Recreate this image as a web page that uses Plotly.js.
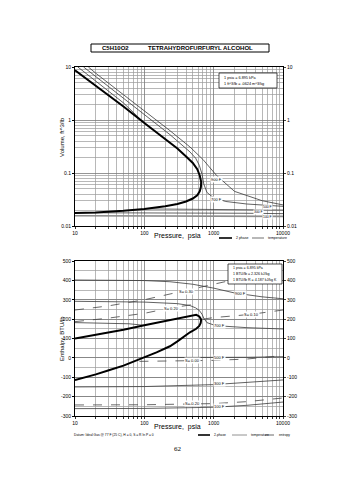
<!DOCTYPE html>
<html><head><meta charset="utf-8">
<script src="https://cdn.plot.ly/plotly-3.0.1.min.js"></script>
<style>html,body{margin:0;padding:0;background:#fff}#chart{width:355px;height:480px}</style>
</head><body><div id="chart"></div>
<script>
// ---------- Top chart: Volume (ft^3/lb) vs Pressure (psia) ----------
const satVapP = [10, 20, 30, 50, 100, 200, 300, 400, 500, 580, 630, 660];
const satVapV = [8.7, 4.45, 3.0, 1.8, 0.88, 0.44, 0.29, 0.205, 0.155, 0.118, 0.09, 0.068];
const satLiqP = [660, 655, 630, 580, 500, 400, 300, 200, 100, 50, 20, 10];
const satLiqV = [0.068, 0.055, 0.045, 0.038, 0.033, 0.029, 0.026, 0.0235, 0.021, 0.0193, 0.018, 0.0176];

const t900P = [15.6, 20, 50, 100, 234, 455, 700, 1100, 2000, 5000, 10000];
const t900V = [10, 7.6, 3.0, 1.5, 0.63, 0.31, 0.18, 0.09, 0.045, 0.03, 0.025];
const t700P = [13.3, 20, 50, 100, 234, 455, 550, 620, 680, 720, 800, 1000, 1500, 3000, 10000];
const t700V = [10, 6.6, 2.6, 1.28, 0.53, 0.25, 0.19, 0.14, 0.095, 0.062, 0.043, 0.034, 0.029, 0.026, 0.0235];
const t500vP = [11, 20, 50, 100];
const t500vV = [10, 5.4, 2.1, 0.88];
const t500lP = [100, 300, 1000, 3000, 10000];
const t500lV = [0.021, 0.0209, 0.0207, 0.0204, 0.0200];
const t300P = [10, 100, 1000, 3000, 10000];
const t300V = [0.0178, 0.0178, 0.0176, 0.0174, 0.0171];
const t100P = [10, 100, 1000, 3000, 10000];
const t100V = [0.0156, 0.0156, 0.0155, 0.0154, 0.0152];

// ---------- Bottom chart: Enthalpy (BTU/lb) vs Pressure (psia) ----------
const satVapHP = [10, 20, 30, 50, 100, 200, 300, 400, 500, 560, 620, 660];
const satVapH = [100, 118, 128, 145, 168, 190, 203, 213, 220, 222, 214, 198];
const satLiqHP = [660, 650, 620, 560, 455, 300, 234, 150, 100, 50, 30, 20, 10];
const satLiqH = [198, 180, 165, 150, 132, 85, 60, 28, 3, -40, -65, -85, -115];

const h900P = [10, 100, 234, 500, 1000, 2000, 5000, 10000];
const h900H = [402, 399, 393, 380, 360, 335, 315, 305];
const h700P = [10, 100, 300, 455, 550, 620, 680, 720, 800, 1000, 1500, 3000, 10000];
const h700H = [292, 288, 280, 270, 258, 245, 225, 205, 182, 170, 163, 156, 149];
const h500vP = [10, 30, 60, 100];
const h500vH = [182, 180, 176, 168];
const h500lP = [100, 300, 1000, 3000, 10000];
const h500lH = [2, 2, 2, 3, 6];
const h300P = [10, 100, 1000, 3000, 10000];
const h300H = [-150, -148, -138, -128, -114];
const h100P = [10, 100, 1000, 3000, 10000];
const h100H = [-262, -261, -255, -245, -228];

const sAP = [10, 30, 100, 234, 455, 1000, 3000, 10000];
const sAH = [247, 268, 300, 330, 350, 380, 420, 460];
const sBP = [10, 30, 100, 234, 455, 560];
const sBH = [187, 205, 230, 257, 273, 280];
const sCP = [700, 1000, 2000, 3500, 10000];
const sCH = [200, 208, 217, 225, 247];
const sDP = [85, 200, 500, 1000, 3000, 10000];
const sDH = [-18, -17, -15, -13, -6, 12];
const sEP = [10, 100, 1000, 3000, 10000];
const sEH = [-243, -242, -236, -226, -207];

// tick labels
const xTicks = [10, 100, 1000, 10000];
const xTickText = ['10', '100', '1000', '10000'];
const vTicks = [0.01, 0.1, 1, 10];
const vTickText = ['0.01', '0.1', '1', '10'];
const hTicks = [-300, -200, -100, 0, 100, 200, 300, 400, 500];
const hTickText = ['-300', '-200', '-100', '0', '100', '200', '300', '400', '500'];

// ---------- build ----------
const W = 355, Hh = 480;
const px = v => v / W;
const py = v => 1 - v / Hh;
const FONT = 'Liberation Sans, Arial, sans-serif';

const minorX = [];
[10, 100, 1000].forEach(d => { for (let m = 2; m <= 9; m++) minorX.push(d * m); });
const minorV = [];
[0.01, 0.1, 1].forEach(d => { for (let m = 2; m <= 9; m++) minorV.push(+(d * m).toPrecision(3)); });

const ISO = {color: '#3a3a3a', width: 0.8};
const SAT = {color: '#000', width: 2};
const ENT = {color: '#444', width: 0.8, dash: 'dash'};

function tr(x, y, xa, ya, line) {
  return {x: x, y: y, xaxis: xa, yaxis: ya, mode: 'lines', line: line, hoverinfo: 'skip', showlegend: false};
}

const data = [
  tr(t100P, t100V, 'x', 'y', {color: '#8c8c8c', width: 1.6}),
  tr(t300P, t300V, 'x', 'y', ISO),
  tr(t500lP, t500lV, 'x', 'y', ISO),
  tr(t500vP, t500vV, 'x', 'y', ISO),
  tr(t700P, t700V, 'x', 'y', ISO),
  tr(t900P, t900V, 'x', 'y', ISO),
  tr(satVapP.concat(satLiqP), satVapV.concat(satLiqV), 'x', 'y', SAT),
  tr([], [], 'x', 'y3', ISO),

  tr(h100P, h100H, 'x2', 'y2', ISO),
  tr(h300P, h300H, 'x2', 'y2', ISO),
  tr(h500lP, h500lH, 'x2', 'y2', ISO),
  tr(h500vP, h500vH, 'x2', 'y2', ISO),
  tr(h700P, h700H, 'x2', 'y2', ISO),
  tr(h900P, h900H, 'x2', 'y2', ISO),
  tr(sAP, sAH, 'x2', 'y2', ENT),
  tr(sBP, sBH, 'x2', 'y2', ENT),
  tr(sCP, sCH, 'x2', 'y2', ENT),
  tr(sDP, sDH, 'x2', 'y2', ENT),
  tr(sEP, sEH, 'x2', 'y2', ENT),
  tr(satVapHP.concat(satLiqHP), satVapH.concat(satLiqH), 'x2', 'y2', SAT),
  tr([], [], 'x2', 'y4', ISO)
];

const tickFont = {family: FONT, size: 5, color: '#000'};
function xAxis(anchor, dom) {
  return {type: 'log', range: [1, 4], domain: dom, anchor: anchor,
    tickmode: 'array', tickvals: xTicks, ticktext: xTickText, tickfont: tickFont,
    ticks: 'outside', ticklen: 2, tickcolor: '#000', tickwidth: 0.8,
    showline: true, mirror: true, linecolor: '#000', linewidth: 1,
    showgrid: true, gridcolor: '#7a7a7a', gridwidth: 0.8, zeroline: false,
    minor: {tickmode: 'array', tickvals: minorX, showgrid: true, gridcolor: '#9a9a9a', gridwidth: 0.7,
            ticks: 'outside', ticklen: 1.5, tickcolor: '#000'}};
}
const xDom = [px(75), px(283)];

const layout = {
  width: W, height: Hh, margin: {l: 0, r: 0, t: 0, b: 0},
  paper_bgcolor: '#fff', plot_bgcolor: '#fff', showlegend: false,
  font: {family: FONT, color: '#000'},
  xaxis: xAxis('y', xDom),
  xaxis2: xAxis('y2', xDom),
  yaxis: {type: 'log', range: [-2, 1], domain: [py(226), py(67)], anchor: 'x',
    tickmode: 'array', tickvals: vTicks, ticktext: vTickText, tickfont: tickFont,
    ticks: 'outside', ticklen: 2, tickcolor: '#000',
    showline: true, mirror: true, linecolor: '#000', linewidth: 1,
    showgrid: true, gridcolor: '#7a7a7a', gridwidth: 0.8, zeroline: false,
    minor: {tickmode: 'array', tickvals: minorV, showgrid: true, gridcolor: '#9a9a9a', gridwidth: 0.7}},
  yaxis3: {type: 'log', range: [-2, 1], overlaying: 'y', side: 'right', anchor: 'x',
    tickmode: 'array', tickvals: vTicks, ticktext: vTickText, tickfont: tickFont,
    ticks: 'outside', ticklen: 2, showgrid: false, zeroline: false, showline: false},
  yaxis2: {range: [-300, 500], domain: [py(416), py(261)], anchor: 'x2',
    tickmode: 'array', tickvals: hTicks, ticktext: hTickText, tickfont: tickFont,
    ticks: 'outside', ticklen: 2, tickcolor: '#000',
    showline: true, mirror: true, linecolor: '#000', linewidth: 1,
    showgrid: true, gridcolor: '#7a7a7a', gridwidth: 0.8, zeroline: false,
    minor: {dtick: 50, showgrid: true, gridcolor: '#9a9a9a', gridwidth: 0.7}},
  yaxis4: {range: [-300, 500], overlaying: 'y2', side: 'right', anchor: 'x2',
    tickmode: 'array', tickvals: hTicks, ticktext: hTickText, tickfont: tickFont,
    ticks: 'outside', ticklen: 2, showgrid: false, zeroline: false, showline: false},
  shapes: [], annotations: []
};

const S = layout.shapes, A = layout.annotations;
function txt(x, y, t, size, opts) {
  A.push(Object.assign({xref: 'paper', yref: 'paper', x: px(x), y: py(y), text: t, showarrow: false,
    font: {family: FONT, size: size, color: '#000'}, xanchor: 'center', yanchor: 'middle'}, opts || {}));
}
// label on a chart; log axes take log10 positions in Plotly annotations
function lbl(xa, ya, x, y, t, ylog, size) {
  A.push({xref: xa, yref: ya, x: Math.log10(x), y: ylog ? Math.log10(y) : y, text: t, showarrow: false,
    bgcolor: '#fff', borderpad: 0,
    font: {family: FONT, size: size || 4, color: '#000'}, xanchor: 'center', yanchor: 'middle'});
}
function box(x0, y0, x1, y1, w) {
  S.push({type: 'rect', xref: 'paper', yref: 'paper', x0: px(x0), x1: px(x1), y0: py(y0), y1: py(y1),
    line: {color: '#000', width: w || 0.8}, fillcolor: '#fff'});
}
function seg(x0, x1, y, line) {
  S.push({type: 'line', xref: 'paper', yref: 'paper', x0: px(x0), x1: px(x1), y0: py(y), y1: py(y), line: line});
}

// title box
box(91, 44, 269, 52, 1);
txt(100, 48, '<b>C5H10O2</b>', 6, {xanchor: 'left'});
txt(200, 48, '<b>TETRAHYDROFURFURYL ALCOHOL</b>', 6);

// top chart texts
txt(62, 137, 'Volume, ft^3/lb', 6, {textangle: -90});
txt(177, 236, 'Pressure,  psia', 7);
seg(219, 232, 238, {color: '#000', width: 1.6});
txt(234, 238, '2 phase', 3.5, {xanchor: 'left'});
seg(252, 264, 238, {color: '#333', width: 0.7});
txt(266, 238, 'temperature', 3.5, {xanchor: 'left'});
box(219, 73, 277, 88, 0.7);
txt(222, 77.5, '1 psia = 6.895 kPa', 3.8, {xanchor: 'left'});
txt(222, 83.5, '1 ft^3/lb = .0624 m^3/kg', 3.8, {xanchor: 'left'});

lbl('x', 'y', 1100, 0.077, '900 F', true);
lbl('x', 'y', 1100, 0.031, '700 F', true);
lbl('x', 'y', 5900, 0.0225, '500 F', true, 3.4);
lbl('x', 'y', 4400, 0.0180, '300 F', true, 3.4);
lbl('x', 'y', 5900, 0.0148, '100 F', true, 3.4);

// bottom chart texts
txt(62, 338, 'Enthalpy, BTU/lb', 6, {textangle: -90});
txt(177, 427, 'Pressure,  psia', 7);
box(228, 264, 282, 284, 0.7);
txt(231, 268, '1 psia = 6.895 kPa', 3.6, {xanchor: 'left'});
txt(231, 274, '1 BTU/lb = 2.326 kJ/kg', 3.6, {xanchor: 'left'});
txt(231, 280, '1 BTU/lb R = 4.187 kJ/kg K', 3.6, {xanchor: 'left'});

lbl('x2', 'y2', 2400, 330, '900 F');
lbl('x2', 'y2', 1230, 166, '700 F');
lbl('x2', 'y2', 1230, 3, '500 F');
lbl('x2', 'y2', 1230, -131, '300 F');
lbl('x2', 'y2', 1230, -252, '100 F');
lbl('x2', 'y2', 407, 341, 'S= 0.30');
lbl('x2', 'y2', 246, 257, 'S= 0.20');
lbl('x2', 'y2', 3560, 225, 'S= 0.10');
lbl('x2', 'y2', 500, -15, 'S= 0.00');
lbl('x2', 'y2', 500, -233, 'S=-0.20');

txt(72, 435, 'Datum: Ideal Gas @ 77 F (25 C), H = 0, S = R ln P = 0', 3.3, {xanchor: 'left'});
seg(198, 210, 435, {color: '#000', width: 1.6});
txt(212, 435, '2-phase', 3.3, {xanchor: 'left'});
seg(232, 247, 435, {color: '#777', width: 0.8});
txt(249, 435, 'temperature', 3.3, {xanchor: 'left'});
seg(265, 275, 435, {color: '#444', width: 0.8, dash: 'dash'});
txt(277, 435, 'entropy', 3.3, {xanchor: 'left'});

txt(178, 449, '62', 7, {font: {family: 'Liberation Serif, serif', size: 7, color: '#000'}});

Plotly.newPlot('chart', data, layout, {staticPlot: true, displayModeBar: false});
</script></body></html>
